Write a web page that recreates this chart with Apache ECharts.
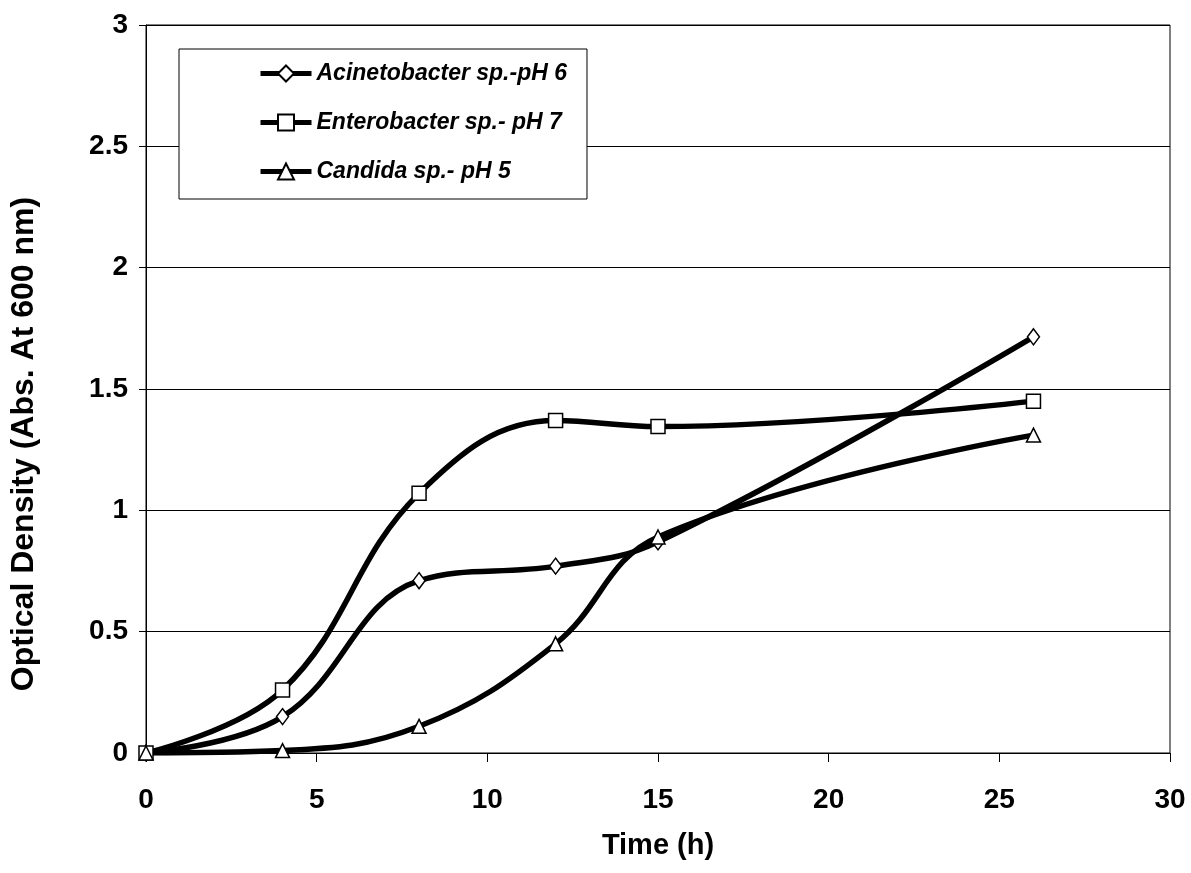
<!DOCTYPE html>
<html>
<head>
<meta charset="utf-8">
<script src="https://cdn.jsdelivr.net/npm/echarts@6/dist/echarts.min.js"></script>
<style>
html,body{margin:0;padding:0;background:#fff;}
#chart{width:1191px;height:873px;}
</style>
</head>
<body>
<div id="chart"></div>
<script>
const seriesNames = ['Acinetobacter sp.-pH 6', 'Enterobacter sp.- pH 7', 'Candida sp.- pH 5'];
const acinetobacter = [[0, 0], [4, 0.15], [8, 0.71], [12, 0.77], [15, 0.87], [26, 1.715]];
const enterobacter = [[0, 0], [4, 0.26], [8, 1.07], [12, 1.37], [15, 1.345], [26, 1.45]];
const candida = [[0, 0], [4, 0.01], [8, 0.11], [12, 0.45], [15, 0.89], [26, 1.31]];
const xTicks = [0, 5, 10, 15, 20, 25, 30];
const yTicks = [0, 0.5, 1, 1.5, 2, 2.5, 3];

const FONT = '"Liberation Sans", Arial, sans-serif';
const chart = echarts.init(document.getElementById('chart'));

function mkSeries(name, data, symbol, size) {
  return {
    name: name,
    type: 'line',
    data: data,
    smooth: 0.4,
    symbol: symbol,
    symbolSize: size,
    showAllSymbol: true,
    lineStyle: { color: '#000', width: 5.5 },
    itemStyle: { color: '#fff', borderColor: '#000', borderWidth: 1.5 },
    emphasis: { disabled: true },
    z: 2
  };
}

chart.setOption({
  animation: false,
  backgroundColor: '#fff',
  grid: {
    left: 145, right: 21, top: 25, bottom: 120,
    show: true, borderColor: '#000', borderWidth: 1, backgroundColor: 'transparent'
  },
  legend: {
    orient: 'vertical',
    left: 179, top: 49,
    padding: [13, 20, 16, 79],
    itemGap: 26,
    itemWidth: 51,
    itemHeight: 20,
    backgroundColor: '#fff',
    borderColor: '#000',
    borderWidth: 1,
    data: seriesNames,
    lineStyle: { width: 5, color: '#000' },
    textStyle: { fontFamily: FONT, fontSize: 23, fontWeight: 'bold', fontStyle: 'italic', color: '#000' }
  },
  xAxis: {
    type: 'value',
    min: xTicks[0], max: xTicks[xTicks.length - 1], interval: 5,
    name: 'Time (h)',
    nameLocation: 'middle',
    nameGap: 78,
    nameTextStyle: { fontFamily: FONT, fontSize: 29, fontWeight: 'bold', color: '#000' },
    axisLine: { show: true, onZero: false, lineStyle: { color: '#000', width: 1 } },
    axisTick: { show: true, inside: false, length: 9, lineStyle: { color: '#000' } },
    axisLabel: { margin: 33, fontFamily: FONT, fontSize: 28, fontWeight: 'bold', color: '#000' },
    splitLine: { show: false }
  },
  yAxis: {
    type: 'value',
    min: yTicks[0], max: yTicks[yTicks.length - 1], interval: 0.5,
    name: 'Optical Density (Abs. At 600 nm)',
    nameLocation: 'middle',
    nameGap: 106,
    nameRotate: 90,
    nameTextStyle: { fontFamily: FONT, fontSize: 32, fontWeight: 'bold', color: '#000', padding: [0, 110, 0, 0] },
    axisLine: { show: true, lineStyle: { color: '#000', width: 1 } },
    axisTick: { show: true, inside: false, length: 7, lineStyle: { color: '#000' } },
    axisLabel: { margin: 18, fontFamily: FONT, fontSize: 28, fontWeight: 'bold', color: '#000' },
    splitLine: { show: true, lineStyle: { color: '#000', width: 1 } }
  },
  series: [
    mkSeries(seriesNames[0], acinetobacter, 'diamond', [12, 16]),
    mkSeries(seriesNames[1], enterobacter, 'rect', 14),
    mkSeries(seriesNames[2], candida, 'triangle', 14)
  ]
});
</script>
</body>
</html>
